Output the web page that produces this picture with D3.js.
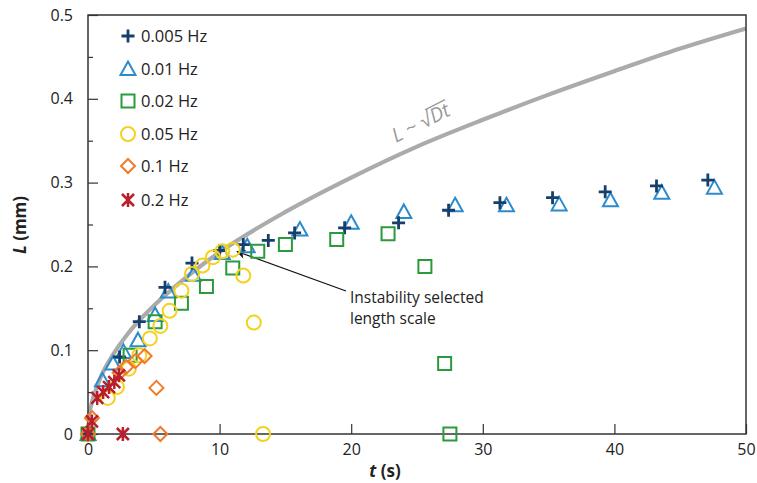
<!DOCTYPE html>
<html><head><meta charset="utf-8">
<script src="https://cdn.jsdelivr.net/npm/d3@7"></script>
<style>
html,body{margin:0;padding:0;background:#fff;}
svg{display:block;font-family:"Open Sans",sans-serif;}
</style></head>
<body><svg id="chart" width="757" height="483"></svg>
<script>
// ---------- data ----------
const seriesNames = ["0.005 Hz","0.01 Hz","0.02 Hz","0.05 Hz","0.1 Hz","0.2 Hz"];
const t005 = [0, 2.4, 3.9, 5.85, 7.9, 10.0, 11.8, 13.7, 15.7, 19.5, 23.6, 27.4, 31.3, 35.3, 39.3, 43.2, 47.1];
const L005 = [0, 0.092, 0.134, 0.175, 0.204, 0.219, 0.226, 0.231, 0.240, 0.246, 0.252, 0.267, 0.276, 0.282, 0.289, 0.296, 0.303];
const t01 = [0, 1.1, 1.9, 2.7, 3.8, 5.1, 6.1, 8.0, 10.2, 12.1, 16.1, 20.0, 24.0, 27.9, 31.8, 35.8, 39.7, 43.6, 47.6];
const L01 = [0, 0.064, 0.084, 0.098, 0.112, 0.142, 0.170, 0.190, 0.216, 0.224, 0.244, 0.252, 0.265, 0.273, 0.273, 0.274, 0.279, 0.288, 0.294];
const t02 = [0, 3.2, 5.1, 7.1, 9.0, 11.0, 12.9, 15.0, 18.9, 22.8, 25.6, 27.1, 27.5];
const L02 = [0, 0.094, 0.134, 0.156, 0.176, 0.198, 0.218, 0.226, 0.232, 0.239, 0.200, 0.084, 0];
const t05 = [1.5, 2.2, 3.1, 3.9, 4.7, 5.5, 6.2, 7.1, 7.9, 8.7, 9.5, 10.2, 11.0, 11.8, 12.6, 13.3];
const L05 = [0.043, 0.056, 0.078, 0.094, 0.114, 0.129, 0.147, 0.171, 0.191, 0.201, 0.211, 0.218, 0.220, 0.189, 0.133, 0];
const t1 = [0, 0.3, 2.4, 2.9, 3.6, 4.3, 5.2, 5.5];
const L1 = [0, 0.019, 0.073, 0.080, 0.087, 0.093, 0.055, 0];
const t2 = [0, 0.3, 0.7, 1.15, 1.6, 2.0, 2.35, 2.65];
const L2 = [0, 0.015, 0.043, 0.050, 0.056, 0.062, 0.070, 0];
// diffusive reference curve L ~ sqrt(Dt)
const curveT = [0, 0.1, 0.3, 0.6, 1, 2, 3, 5, 7, 10, 15, 20, 25, 30, 35, 40, 45, 50];
const curveL = [0, 0.022, 0.038, 0.053, 0.069, 0.097, 0.119, 0.153, 0.181, 0.217, 0.265, 0.306, 0.343, 0.375, 0.405, 0.433, 0.460, 0.484];
const xTicks = [0, 10, 20, 30, 40, 50];
const yTicks = [0, 0.1, 0.2, 0.3, 0.4, 0.5];
const yMinorTicks = [0.05, 0.15, 0.25, 0.35, 0.45];
const annotation = ["Instability selected", "length scale"];
const annotationTarget = [11.1, 0.219];

// ---------- layout ----------
const svg = d3.select("#chart");
const X0 = 88, X1 = 746, Y0 = 434, Y1 = 15;
const x = d3.scaleLinear().domain([0, 50]).range([X0, X1]);
const y = d3.scaleLinear().domain([0, 0.5]).range([Y0, Y1]);

const colors = ["#173f6c", "#2b8ccd", "#2a9a3c", "#f3d21e", "#f07a2a", "#b81f2a"];
const shapes = [
  "M-6.5,0H6.5M0,-6.5V6.5",          // plus
  "M0,-7.5L7.5,6L-7.5,6Z",           // triangle
  "M-6.5,-6.5H6.5V6.5H-6.5Z",        // square
  "M-7,0A7,7 0 1,0 7,0A7,7 0 1,0 -7,0Z", // circle
  "M0,-7L7,0L0,7L-7,0Z",             // diamond
  "M0,-7V7M-6,-6L6,6M-6,6L6,-6"      // asterisk
];
const widths = [2.8, 2, 2, 2, 2, 2.5];

// grey curve
const curveData = curveT.map((t, i) => [t, curveL[i]]);
svg.append("path")
  .datum(curveData)
  .attr("fill", "none")
  .attr("stroke", "#ababab")
  .attr("stroke-width", 4.2)
  .attr("d", d3.line().x(d => x(d[0])).y(d => y(d[1])).curve(d3.curveMonotoneX));

// curve label
const labFs = 20;
const lab = svg.append("g").attr("transform", `translate(396,143) rotate(-27)`);
const labText = lab.append("text").attr("fill", "#9a9a9a").attr("font-size", labFs)
  .attr("x", 0).attr("y", 0);
labText.append("tspan").attr("font-style", "italic").text("L");
labText.append("tspan").text(" ~ √");
const dt = labText.append("tspan").attr("font-style", "italic").text("Dt");
{
  const full = labText.node().getComputedTextLength();
  const dtw = dt.node().getComputedTextLength();
  lab.append("line").attr("x1", full - dtw - 1.5).attr("x2", full + 1)
    .attr("y1", -labFs * 0.82).attr("y2", -labFs * 0.82)
    .attr("stroke", "#9a9a9a").attr("stroke-width", 1.3);
}

// axes frame
const axisColor = "#333";
svg.append("rect").attr("x", X0).attr("y", Y1).attr("width", X1 - X0).attr("height", Y0 - Y1)
  .attr("fill", "none").attr("stroke", axisColor).attr("stroke-width", 1.5);

// y axis
const yAxis = d3.axisLeft(y).tickValues(yTicks).tickSize(-10).tickPadding(15)
  .tickFormat(d => d === 0 ? "0" : d3.format(".1f")(d));
const gy = svg.append("g").attr("transform", `translate(${X0},0)`).call(yAxis);
gy.select(".domain").remove();
gy.selectAll(".tick line").attr("stroke", axisColor).attr("stroke-width", 1.2);
gy.selectAll(".tick text").attr("font-size", 16).attr("fill", "#222").attr("font-family", "Open Sans");
const yMinor = d3.axisLeft(y).tickValues(yMinorTicks).tickSize(-5).tickFormat("");
const gym = svg.append("g").attr("transform", `translate(${X0},0)`).call(yMinor);
gym.select(".domain").remove();
gym.selectAll(".tick line").attr("stroke", axisColor).attr("stroke-width", 1.2);

// x axis
const xAxis = d3.axisBottom(x).tickValues(xTicks).tickSize(-10).tickPadding(10).tickFormat(d3.format("d"));
const gx = svg.append("g").attr("transform", `translate(0,${Y0})`).call(xAxis);
gx.select(".domain").remove();
gx.selectAll(".tick line").attr("stroke", axisColor).attr("stroke-width", 1.2);
gx.selectAll(".tick text").attr("font-size", 16).attr("fill", "#222").attr("font-family", "Open Sans");

// axis titles
svg.append("text").attr("x", 385).attr("y", 477).attr("text-anchor", "middle")
  .attr("font-size", 17).attr("font-weight", "bold").attr("fill", "#222")
  .call(t => { t.append("tspan").attr("font-style", "italic").text("t"); t.append("tspan").text(" (s)"); });
svg.append("text").attr("transform", "translate(26,225) rotate(-90)").attr("text-anchor", "middle")
  .attr("font-size", 17).attr("font-weight", "bold").attr("fill", "#222")
  .call(t => { t.append("tspan").attr("font-style", "italic").text("L"); t.append("tspan").text(" (mm)"); });

// annotation arrow
const tip = [x(annotationTarget[0]) + 3, y(annotationTarget[1]) + 1];
const tail = [346, 291];
svg.append("defs").append("marker").attr("id", "ah").attr("viewBox", "0 0 10 10")
  .attr("refX", 9).attr("refY", 5).attr("markerWidth", 12).attr("markerHeight", 9)
  .attr("markerUnits", "userSpaceOnUse").attr("orient", "auto")
  .append("path").attr("d", "M0,0L10,5L0,10L2.5,5Z").attr("fill", "#111");
svg.append("line").attr("x1", tail[0]).attr("y1", tail[1]).attr("x2", tip[0]).attr("y2", tip[1])
  .attr("stroke", "#111").attr("stroke-width", 1.2).attr("marker-end", "url(#ah)");
svg.append("g").selectAll("text").data(annotation).join("text")
  .attr("x", 350).attr("y", (d, i) => 303 + i * 21)
  .attr("font-size", 15.5).attr("fill", "#222").text(d => d);

// data points
const series = [
  {t: t01, L: L01, k: 1},
  {t: t005, L: L005, k: 0},
  {t: t02, L: L02, k: 2},
  {t: t05, L: L05, k: 3},
  {t: t1, L: L1, k: 4},
  {t: t2, L: L2, k: 5}
];
series.forEach(s => {
  const pts = s.t.map((t, i) => [t, s.L[i]]);
  svg.append("g").selectAll("path").data(pts).join("path")
    .attr("transform", d => `translate(${x(d[0])},${y(d[1])})`)
    .attr("d", shapes[s.k]).attr("fill", "none")
    .attr("stroke", colors[s.k]).attr("stroke-width", widths[s.k]);
});

// legend
const legY = [36, 69, 101, 134, 166, 200];
const leg = svg.append("g");
seriesNames.forEach((n, i) => {
  leg.append("path").attr("transform", `translate(128,${legY[i]})`).attr("d", shapes[i])
    .attr("fill", "none").attr("stroke", colors[i]).attr("stroke-width", widths[i]);
  leg.append("text").attr("x", 141).attr("y", legY[i] + 6).attr("font-size", 16.5)
    .attr("fill", "#222").text(n);
});
</script></body></html>
